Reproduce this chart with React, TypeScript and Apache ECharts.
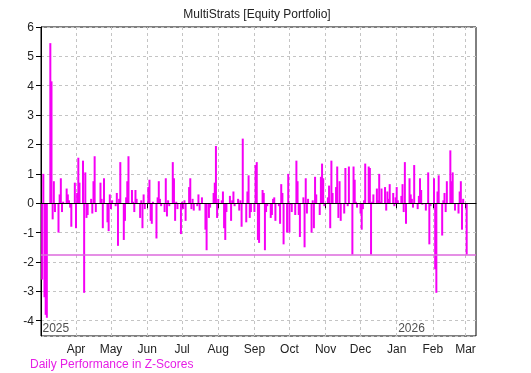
import React, { useEffect, useRef } from "react";
import * as echarts from "echarts";

const TITLE = "MultiStrats [Equity Portfolio]";
const LEGEND_TEXT = "Daily Performance in Z-Scores";
const AXIS_START = "2025-03-02";
const AXIS_END = "2026-03-10";
const MONTH_NAMES = ["Jan", "Feb", "Mar", "Apr", "May", "Jun", "Jul", "Aug", "Sep", "Oct", "Nov", "Dec"];
const YEAR_LABELS: [string, string][] = [["2025-03-02", "2025"], ["2026-01-01", "2026"]];
const THRESHOLD = -1.75;
const Y_MIN = -4.52;
const Y_MAX = 6;

// Daily z-scores, one value per business day of each month
const z2025_03 = [-2.6, 1.0, -3.2, -3.8, -3.9, 5.45, 4.15, -0.55, 0.75, -0.3, -1.0, 0.3, 0.85, -0.3, 0.05, 0.5, 0.3, 0.1, -0.15, -0.8, 0.7];
const z2025_04 = [-0.85, 0.35, 1.55, 0.7, 1.45, -3.05, 1.05, -0.5, -0.4, 0.15, -0.35, 0.75, 1.6, -0.3, 0.0, 0.7, 0.15, -0.85, 0.85, -0.65, -0.95, 0.3];
const z2025_05 = [-0.2, 0.1, -0.1, 0.35, -1.45, 0.15, 1.4, -1.25, -0.6, 0.2, 0.75, 1.6, 0.45, 0.05, -0.3, 0.45, 0.15, -0.5, 0.1, -0.85, 0.3, -0.2];
const z2025_06 = [0.55, 0.8, -0.6, -0.7, 0.05, -1.2, 0.2, 0.75, 0.15, -0.1, -0.3, 0.85, -0.45, 0.1, -0.1, 1.4, 0.85, -0.6, 0.05, -0.2, -1.05];
const z2025_07 = [0.05, -0.2, 0.1, -0.6, 0.55, 0.85, -0.2, 0.15, -0.25, -0.1, 0.3, -0.25, 0.0, 0.2, -0.9, -1.6, 0.0, -0.5, -0.15, 0.35, 0.7, 1.95, -0.5];
const z2025_08 = [0.15, 0.1, 0.4, -0.85, -1.25, -0.3, 0.25, -0.6, 0.1, 0.4, -0.1, 0.15, -0.25, 0.1, -0.8, 2.2, -0.65, 0.4, 0.95, -0.5, -0.3];
const z2025_09 = [-0.3, 1.3, 1.4, -1.25, -1.35, 0.45, 0.35, -1.6, -0.3, -0.1, -0.5, -0.4, 0.15, 0.2, -0.6, -0.1, -0.7, 0.65, 0.35, -1.4, -1.0, 1.0];
const z2025_10 = [-1.0, -0.05, -0.3, -0.4, 1.45, 0.75, -0.4, -1.15, 0.2, -1.5, 0.85, -0.35, 0.15, -1.0, 0.1, -0.85, 0.9, 0.3, -0.4, 0.9, 1.35, 0.85, -0.1];
const z2025_11 = [0.2, 0.6, -0.85, 1.45, 0.35, 0.55, 1.25, -0.5, 0.75, -0.6, -0.35, 1.2, 0.0, -0.1, 1.25, -1.75, 1.25, 0.8, 0.05, -0.15];
const z2025_12 = [-0.35, -0.9, -0.2, 0.1, 1.35, 1.25, 1.2, -1.75, 0.05, 0.3, 0.5, 0.1, 1.0, 0.05, 0.5, 0.55, -0.25, 0.4, 0.15, 0.65, 0.35, -0.1, 0.2];
const z2026_01 = [0.55, 0.1, 0.25, 0.65, -0.3, 1.4, -0.7, 0.85, 0.3, 0.15, -0.15, 1.3, -0.2, 0.25, 0.85, 0.45, -0.05, -0.25, 0.0, 1.05, -1.4, -0.1];
const z2026_02 = [0.85, -2.25, -3.05, 0.4, 0.95, -1.1, 0.1, 0.35, -0.3, 0.75, 1.8, 0.75, 1.05, 0.0, -0.25, -0.35, 0.4, 0.75, -0.9, 0.15];
const z2026_03 = [-1.75];

const MONTHLY: [string, number[]][] = [
  ["2025-03", z2025_03], ["2025-04", z2025_04], ["2025-05", z2025_05], ["2025-06", z2025_06],
  ["2025-07", z2025_07], ["2025-08", z2025_08], ["2025-09", z2025_09], ["2025-10", z2025_10],
  ["2025-11", z2025_11], ["2025-12", z2025_12], ["2026-01", z2026_01], ["2026-02", z2026_02],
  ["2026-03", z2026_03],
];

const FONT = "'Liberation Sans', Arial, sans-serif";
const TEXT_COLOR = "#222";

function buildCalendar(start: string, end: string): string[] {
  const out: string[] = [];
  let t = Date.parse(start + "T00:00:00Z");
  const e = Date.parse(end + "T00:00:00Z");
  while (t <= e) {
    out.push(new Date(t).toISOString().slice(0, 10));
    t += 86400000;
  }
  return out;
}

export default function App() {
  const ref = useRef<HTMLDivElement>(null);
  useEffect(() => {
    if (!ref.current) return;
    const chart = echarts.init(ref.current, undefined, { renderer: "svg" });

    const days = buildCalendar(AXIS_START, AXIS_END);
    const monthMap = new Map<string, number[]>(MONTHLY);
    const used = new Map<string, number>();
    const barData: (number | string)[] = days.map((d) => {
      const wd = new Date(d + "T00:00:00Z").getUTCDay();
      const key = d.slice(0, 7);
      const arr = monthMap.get(key);
      if (!arr || wd === 0 || wd === 6) return "-";
      const i = used.get(key) || 0;
      if (i >= arr.length) return "-";
      used.set(key, i + 1);
      return arr[i];
    });

    const isMonthStart = (_i: number, v: string) => typeof v === "string" && v.slice(8, 10) === "01";

    chart.setOption({
      animation: false,
      grid: { left: 41, right: 55, top: 27, bottom: 37, show: true, borderColor: "#000", borderWidth: 1, backgroundColor: "transparent" },
      graphic: [
        { type: "text", x: 257, y: 14, style: { text: TITLE, fill: TEXT_COLOR, font: `12px ${FONT}`, align: "center", verticalAlign: "middle" } },
        { type: "text", x: 30, y: 364, style: { text: LEGEND_TEXT, fill: "#e61ee6", font: `12px ${FONT}`, align: "left", verticalAlign: "middle" } },
      ],
      xAxis: {
        type: "category",
        data: days,
        boundaryGap: false,
        axisLine: { show: true, lineStyle: { color: "#000", width: 1 } },
        axisTick: { show: true, interval: isMonthStart, length: 5, lineStyle: { color: "#000" } },
        axisLabel: {
          show: true,
          interval: isMonthStart,
          margin: 7,
          color: TEXT_COLOR,
          fontSize: 12,
          fontFamily: FONT,
          formatter: (v: string) => MONTH_NAMES[parseInt(v.slice(5, 7), 10) - 1],
        },
        splitLine: { show: true, interval: isMonthStart, lineStyle: { color: "#c4c4c4", type: [3, 3], width: 1 } },
      },
      yAxis: {
        type: "value",
        min: Y_MIN,
        max: Y_MAX,
        splitNumber: 10,
        minInterval: 1,
        maxInterval: 1,
        axisLine: { show: true, lineStyle: { color: "#000", width: 1 } },
        axisTick: { show: true, length: 5, lineStyle: { color: "#000" } },
        axisLabel: { show: true, showMinLabel: false, margin: 7, color: TEXT_COLOR, fontSize: 12, fontFamily: FONT },
        splitLine: { show: true, lineStyle: { color: "#c4c4c4", type: [3, 3], width: 1 } },
      },
      series: [
        {
          type: "bar",
          data: barData,
          barWidth: 2,
          itemStyle: { color: "#f500f5" },
          markLine: {
            silent: true,
            symbol: "none",
            label: { show: false },
            data: [
              { yAxis: THRESHOLD, lineStyle: { color: "#dc6adc", width: 1.6, type: "solid" } },
              { yAxis: 0, lineStyle: { color: "#000", width: 1, type: "solid" } },
            ],
          },
        },
        {
          type: "scatter",
          symbolSize: 1,
          clip: false,
          itemStyle: { color: "transparent" },
          data: YEAR_LABELS.map(([d, t]) => ({
            value: [d, Y_MIN],
            label: { show: true, formatter: t, position: "right", distance: 1, offset: [0, -8], color: TEXT_COLOR, fontSize: 12, fontFamily: FONT },
          })),
        },
      ],
    });
    return () => chart.dispose();
  }, []);
  return <div ref={ref} style={{ position: "fixed", left: 0, top: 0, width: 531, height: 373 }} />;
}
